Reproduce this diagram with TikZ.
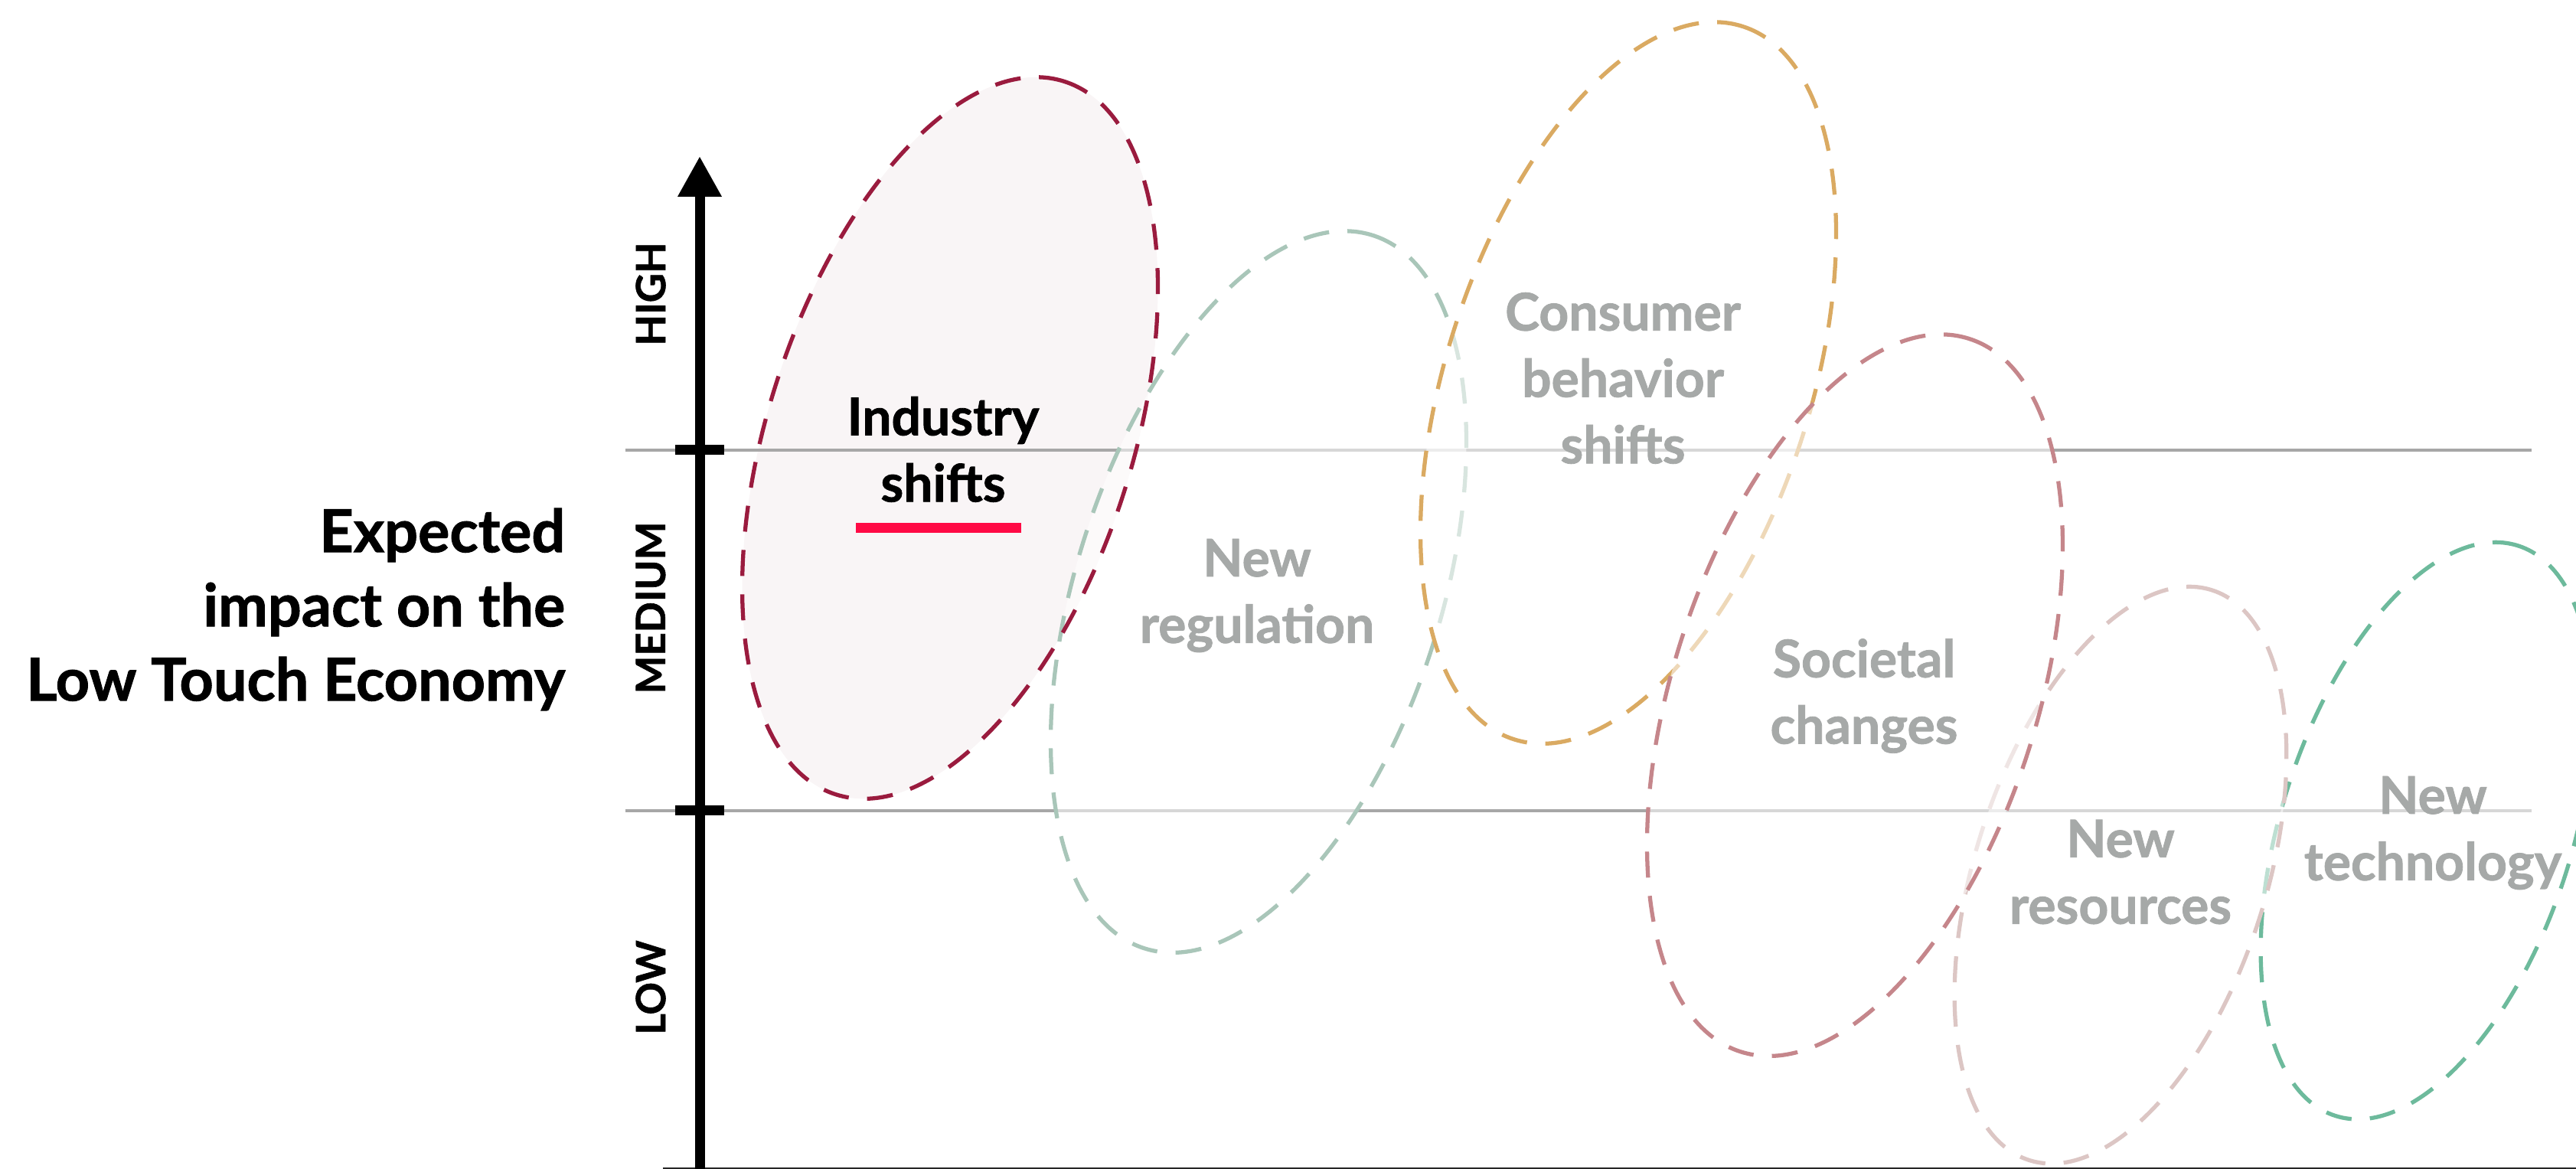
\documentclass[tikz,border=0pt]{standalone}
\usepackage{fontspec}
\setmainfont{Lato}[BoldFeatures={FakeBold=1.2}]
\usetikzlibrary{arrows.meta}

\definecolor{indline}{HTML}{9A1B3E}
\definecolor{indfill}{HTML}{F9F5F6}
\definecolor{regline}{HTML}{A9C6B9}
\definecolor{consline}{HTML}{DAAA62}
\definecolor{socline}{HTML}{C5868B}
\definecolor{resline}{HTML}{DCC6C4}
\definecolor{techline}{HTML}{6DBA9C}
\definecolor{lblgray}{HTML}{A6A9A8}
\definecolor{rulegray}{HTML}{A7A7A7}
\definecolor{markred}{HTML}{FF0A45}

\begin{document}
\begin{tikzpicture}[
    zone/.style={dash pattern=on 0.34cm off 0.24cm, line width=1.5pt, fill=white, fill opacity=0.55},
    rule/.style={draw=rulegray, line width=1.3pt},
    axis/.style={line width=3.7pt, -{Triangle[width=0.54cm, length=0.53cm]}},
    tick/.style={line width=3.7pt},
    lbl/.style={font=\bfseries\fontsize{19.3}{24.7}\selectfont, text=lblgray, align=center, inner sep=0pt},
    lvl/.style={font=\bfseries\fontsize{15}{18}\selectfont, rotate=90, inner sep=0pt},
]
\useasboundingbox (0,0) rectangle (33.65,15.27);

% centres of the zones
\coordinate (ind)  at (12.41, 9.55);
\coordinate (reg)  at (16.44, 7.54);
\coordinate (cons) at (21.27,10.27);
\coordinate (soc)  at (24.23, 6.19);
\coordinate (res)  at (27.70, 3.84);
\coordinate (tech) at (31.70, 4.42);

% level rules
\coordinate (hiL) at ( 8.17,9.39);
\coordinate (hiR) at (33.07,9.39);
\coordinate (loL) at ( 8.17,4.68);
\coordinate (loR) at (33.07,4.68);

\fill[indfill, rotate around={72.2:(ind)}] (ind) ellipse [x radius=4.89, y radius=2.38];

\draw[rule] (hiL) -- (hiR);
\draw[rule] (loL) -- (loR);

% zones, back to front
\draw[zone, draw=regline,  rotate around={72.2:(reg)}]  (reg)  ellipse [x radius=4.89, y radius=2.38];
\draw[zone, draw=consline, rotate around={72.2:(cons)}] (cons) ellipse [x radius=4.89, y radius=2.38];
\draw[zone, draw=techline, rotate around={72.2:(tech)}] (tech) ellipse [x radius=3.91, y radius=1.90];
\draw[zone, draw=resline,  rotate around={72.2:(res)}]  (res)  ellipse [x radius=3.91, y radius=1.90];
\draw[zone, draw=socline,  rotate around={72.2:(soc)}]  (soc)  ellipse [x radius=4.89, y radius=2.38];
\draw[indline, dash pattern=on 0.34cm off 0.24cm, line width=1.5pt, rotate around={72.2:(ind)}] (ind) ellipse [x radius=4.89, y radius=2.38];

% labels
\node[lbl, text=black] (indlbl)  at (12.32,9.40) {Industry\\shifts};
\node[lbl]             (reglbl)  at (16.42,7.49) {New\\regulation};
\node[lbl]             (conslbl) at (21.20,10.33) {Consumer\\behavior\\shifts};
\node[lbl]             (soclbl)  at (24.35,6.18) {Societal\\changes};
\node[lbl]             (reslbl)  at (27.70,3.88) {New\\resources};
\node[lbl]             (techlbl) at (31.78,4.39) {New\\technology};

\draw[markred, line width=0.13cm] (11.18,8.37) -- (13.34,8.37);

% axis
\coordinate (axbot) at (9.14,0);
\coordinate (axtop) at (9.14,13.23);
\coordinate (baseL) at (8.66,0.01);
\coordinate (baseR) at (33.65,0.01);
\draw[line width=0.6pt, black!85] (baseL) -- (baseR);
\draw[axis] (axbot) -- (axtop);
\draw[tick] (8.82,9.39) -- (9.46,9.39);
\draw[tick] (8.82,4.68) -- (9.46,4.68);

\node[lvl] (high) at (8.50,11.43) {HIGH};
\node[lvl] (med)  at (8.50, 7.33) {MEDIUM};
\node[lvl] (low)  at (8.50, 2.37) {LOW};

\node[font=\bfseries\fontsize{22}{27.6}\selectfont, align=right, anchor=east, inner sep=0pt] (title) at (7.39,7.31)
    {Expected\\impact on the\\Low Touch Economy};

\end{tikzpicture}
\end{document}
